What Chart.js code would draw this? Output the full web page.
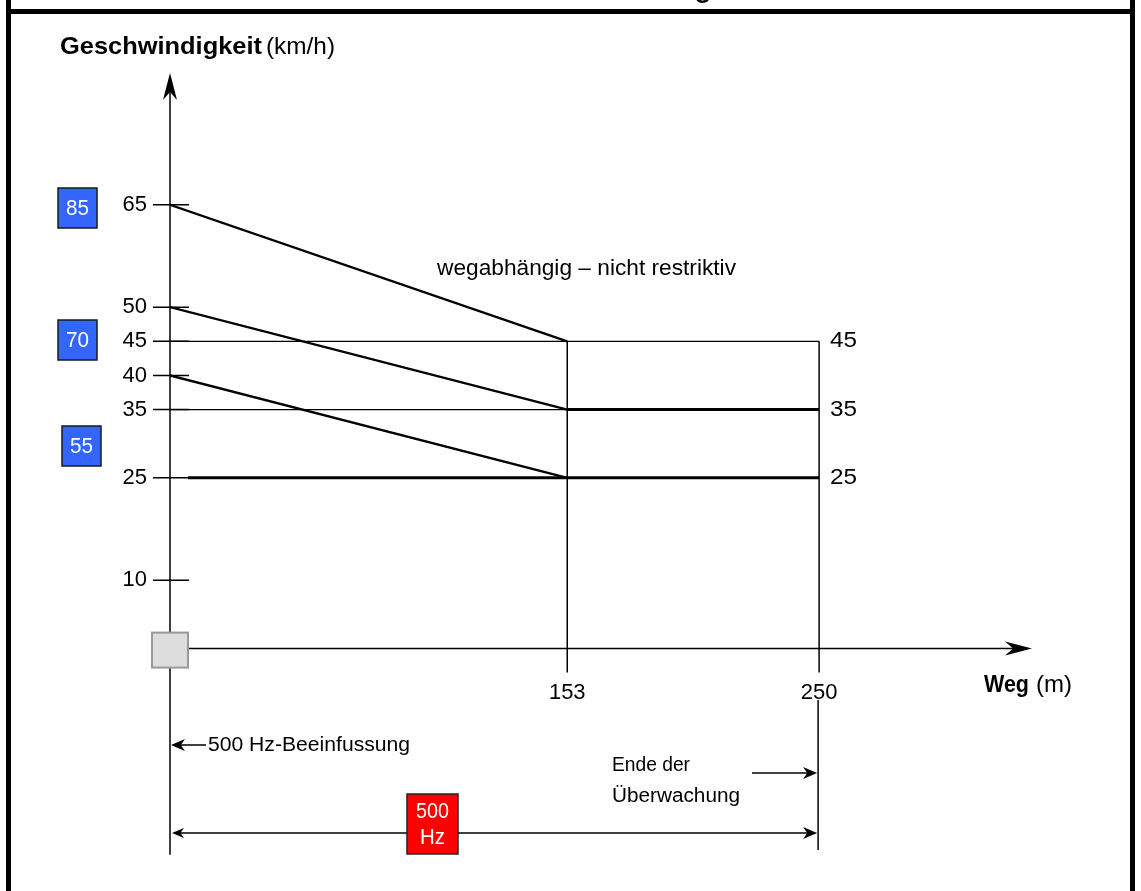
<!DOCTYPE html>
<html>
<head>
<meta charset="utf-8">
<script src="https://cdn.jsdelivr.net/npm/chart.js@4.4.1/dist/chart.umd.min.js"></script>
<style>
html, body { margin: 0; padding: 0; background: #fff; }
canvas { display: block; }
</style>
</head>
<body>
<canvas id="chart" width="1141" height="891"></canvas>
<script>
// Geschwindigkeit (km/h) und Weg (m)
const speedTicks = [10, 25, 35, 40, 45, 50, 65];
const wayTicks = [153, 250];
const startSpeeds = [65, 50, 40];
const targetSpeeds = [45, 35, 25];
const releaseWay = 153;
const endWay = 250;
const lowLineFrom = 7;
const rightLabels = [45, 35, 25];
const trainSpeeds = ['85', '70', '55'];

const FONT = "'Liberation Sans', Arial, sans-serif";

function seg(points, width) {
  return {
    data: points.map(p => ({ x: p[0], y: p[1] })),
    borderColor: '#000',
    borderWidth: width,
    pointRadius: 0,
    fill: false,
    tension: 0,
    borderCapStyle: 'butt'
  };
}

const datasets = [];
startSpeeds.forEach((v, i) => {
  datasets.push(seg([[0, v], [releaseWay, targetSpeeds[i]]], 2.3));
});
datasets.push(seg([[0, targetSpeeds[0]], [endWay, targetSpeeds[0]]], 1.3));
datasets.push(seg([[0, targetSpeeds[1]], [releaseWay, targetSpeeds[1]]], 1.3));
datasets.push(seg([[releaseWay, targetSpeeds[1]], [endWay, targetSpeeds[1]]], 3));
datasets.push(seg([[lowLineFrom, targetSpeeds[2]], [endWay, targetSpeeds[2]]], 3));
datasets.push(seg([[releaseWay, targetSpeeds[0]], [releaseWay, 0]], 1.5));
datasets.push(seg([[endWay, targetSpeeds[0]], [endWay, 0]], 1.5));

function fitText(c, str, x, y, width, font) {
  c.save();
  c.font = font;
  const w = c.measureText(str).width;
  c.translate(x, y);
  c.scale(width / w, 1);
  c.textAlign = 'left';
  c.textBaseline = 'middle';
  c.fillText(str, 0, 0);
  c.restore();
}

function arrowHead(c, tx, ty, angle, len, half) {
  c.save();
  c.translate(tx, ty);
  c.rotate(angle);
  c.beginPath();
  c.moveTo(0, 0);
  c.lineTo(-len, -half);
  c.lineTo(-len * 0.7, 0);
  c.lineTo(-len, half);
  c.closePath();
  c.fill();
  c.restore();
}

function line(c, x1, y1, x2, y2, w) {
  c.lineWidth = w;
  c.beginPath();
  c.moveTo(x1, y1);
  c.lineTo(x2, y2);
  c.stroke();
}

function box(c, x, y, w, h, fill, stroke, sw) {
  c.save();
  c.fillStyle = fill;
  c.fillRect(x, y, w, h);
  c.strokeStyle = stroke;
  c.lineWidth = sw;
  c.strokeRect(x, y, w, h);
  c.restore();
}

const schema = {
  id: 'schema',
  beforeDraw(chart) {
    const c = chart.ctx;
    c.save();
    c.fillStyle = '#fff';
    c.fillRect(0, 0, chart.width, chart.height);
    c.restore();
  },
  afterDraw(chart) {
    const c = chart.ctx;
    const xs = chart.scales.x;
    const ys = chart.scales.y;
    const x0 = xs.getPixelForValue(0);
    const y0 = ys.getPixelForValue(0);
    const xEnd = xs.getPixelForValue(endWay);
    const area = chart.chartArea;
    c.save();
    c.fillStyle = '#000';
    c.strokeStyle = '#000';

    // Rahmen
    c.fillRect(6, 0, 5, chart.height);
    c.fillRect(1130, 0, 5, chart.height);
    c.fillRect(6, 9, 1129, 5);
    c.font = 'bold 28px ' + FONT;
    c.textAlign = 'center';
    c.textBaseline = 'alphabetic';
    c.fillText('g', 703, -3);

    // Achsen
    line(c, x0, area.top + 4, x0, area.bottom, 1.5);
    arrowHead(c, x0, area.top - 2, -Math.PI / 2, 27, 7);
    line(c, x0, y0, area.right - 6, y0, 1.5);
    arrowHead(c, area.right, y0, 0, 27, 7);

    // Teilstriche
    speedTicks.forEach(v => {
      const py = ys.getPixelForValue(v);
      line(c, x0 - 17, py, x0 + 19, py, 1.5);
    });
    wayTicks.forEach(v => {
      const px = xs.getPixelForValue(v);
      line(c, px, y0, px, y0 + 24, 1.5);
    });

    // rechte Beschriftung
    rightLabels.forEach(v => {
      fitText(c, String(v), xEnd + 11, ys.getPixelForValue(v), 27, '22px ' + FONT);
    });

    fitText(c, 'wegabhängig – nicht restriktiv', 437, 269, 299, '22px ' + FONT);

    // Achsentitel
    fitText(c, 'Geschwindigkeit', 60, 47, 202, 'bold 24px ' + FONT);
    fitText(c, '(km/h)', 266, 47, 69, '24px ' + FONT);
    fitText(c, 'Weg', 984, 685, 45, 'bold 24px ' + FONT);
    fitText(c, '(m)', 1036, 685, 36, '24px ' + FONT);

    // Zuggeschwindigkeiten
    const boxes = [[58, 188], [58, 320], [62, 426]];
    trainSpeeds.forEach((t, i) => {
      const [bx, by] = boxes[i];
      box(c, bx, by, 39, 40, '#3366ff', '#1a1a1a', 1.5);
      c.fillStyle = '#fff';
      fitText(c, t, bx + 8, by + 21, 23, '22px ' + FONT);
      c.fillStyle = '#000';
    });

    // Magnet im Ursprung
    box(c, x0 - 18, y0 - 16, 36, 35, '#dddddd', '#999999', 2);

    // untere Beschriftung
    line(c, xEnd - 1, 700, xEnd - 1, 850, 1.5);
    arrowHead(c, x0 + 1, 745, Math.PI, 14, 6);
    line(c, x0 + 10, 745, x0 + 36, 745, 1.5);
    fitText(c, '500 Hz-Beeinfussung', 208, 745, 202, '20px ' + FONT);
    fitText(c, 'Ende der', 612, 765, 78, '20px ' + FONT);
    fitText(c, 'Überwachung', 612, 796, 128, '20px ' + FONT);
    line(c, 752, 773, xEnd - 10, 773, 1.5);
    arrowHead(c, xEnd - 2, 773, 0, 14, 6);

    line(c, x0 + 6, 833, xEnd - 8, 833, 1.5);
    arrowHead(c, x0 + 2, 833, Math.PI, 12, 5);
    arrowHead(c, xEnd - 2, 833, 0, 14, 6);

    box(c, 407, 794, 51, 60, '#ff0000', '#222222', 1.5);
    c.fillStyle = '#fff';
    fitText(c, '500', 416, 812, 33, '22px ' + FONT);
    fitText(c, 'Hz', 420, 838, 25, '22px ' + FONT);
    c.restore();
  }
};

new Chart(document.getElementById('chart'), {
  type: 'line',
  data: { datasets: datasets },
  options: {
    responsive: false,
    animation: false,
    layout: { padding: { left: 0, top: 75, right: 109, bottom: 34 } },
    plugins: { legend: { display: false }, tooltip: { enabled: false } },
    scales: {
      x: {
        type: 'linear',
        min: 0,
        max: 332,
        position: { y: 0 },
        afterBuildTicks: s => { s.ticks = wayTicks.map(v => ({ value: v })); },
        grid: { display: false, drawTicks: false },
        border: { display: false },
        ticks: { color: '#000', font: { family: FONT, size: 22 }, padding: 31 }
      },
      y: {
        type: 'linear',
        min: -30.2,
        max: 84,
        afterFit: s => { s.width = 170; },
        afterBuildTicks: s => { s.ticks = speedTicks.map(v => ({ value: v })); },
        grid: { display: false, drawTicks: false },
        border: { display: false },
        ticks: { color: '#000', font: { family: FONT, size: 22 }, padding: 23 }
      }
    }
  },
  plugins: [schema]
});
</script>
</body>
</html>
